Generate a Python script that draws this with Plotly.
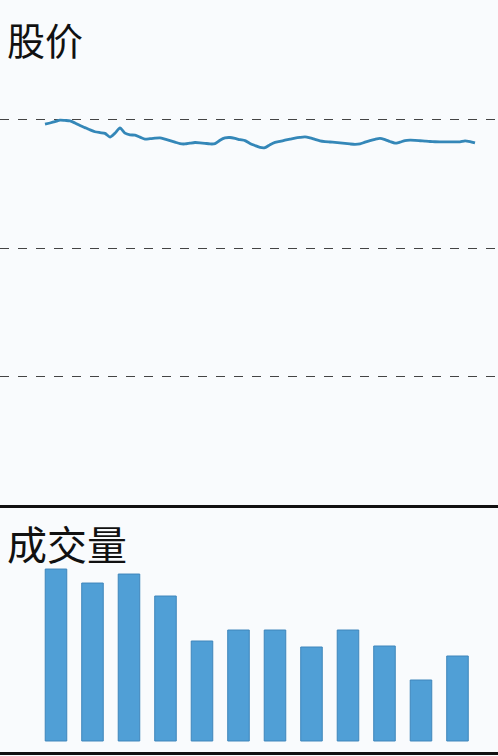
import plotly.graph_objects as go
from plotly.subplots import make_subplots

# daily close
price = [
    29.65, 29.74, 29.84, 29.96, 29.94, 29.91, 29.74, 29.55, 29.38, 29.21,
    29.06, 28.99, 28.93, 28.64, 28.95, 29.36, 28.95, 28.82, 28.79, 28.64,
    28.48, 28.52, 28.56, 28.58, 28.48, 28.37, 28.25, 28.13, 28.11, 28.17,
    28.22, 28.20, 28.16, 28.11, 28.13, 28.40, 28.58, 28.61, 28.54, 28.44,
    28.37, 28.15, 27.99, 27.84, 27.82, 28.05, 28.23, 28.31, 28.40, 28.48,
    28.56, 28.62, 28.66, 28.58, 28.46, 28.35, 28.29, 28.26, 28.23, 28.19,
    28.15, 28.11, 28.08, 28.11, 28.25, 28.37, 28.47, 28.54, 28.44, 28.30,
    28.17, 28.25, 28.37, 28.40, 28.39, 28.36, 28.33, 28.30, 28.28, 28.27,
    28.27, 28.27, 28.27, 28.27, 28.35, 28.29, 28.19,
]
days = list(range(len(price)))

periods = list(range(1, 13))
volume = [172, 158, 167, 145, 100, 111, 111, 94, 111, 95, 61, 85]

bg = "#f9fbfd"
cjk = "Noto Sans CJK SC"

fig = make_subplots(rows=2, cols=1)

fig.add_trace(go.Scatter(
    x=days, y=price, mode="lines",
    line=dict(color="#3487b8", width=2.8, shape="spline", smoothing=0.6),
    showlegend=False, hoverinfo="skip"
), row=1, col=1)

fig.add_trace(go.Bar(
    x=periods, y=volume, width=0.59,
    marker=dict(color="#509fd6", line=dict(color="#3f86bb", width=1)),
    showlegend=False, hoverinfo="skip"
), row=2, col=1)

fig.update_layout(
    width=498, height=756,
    margin=dict(l=0, r=0, t=0, b=0),
    paper_bgcolor=bg, plot_bgcolor=bg,
    font=dict(family=cjk, color="#111"),
    xaxis=dict(domain=[0, 1], range=[-9, 90.6], showgrid=False, zeroline=False,
               showticklabels=False, ticks="", showline=True,
               linecolor="#111", linewidth=2.5),
    yaxis=dict(domain=[0.332, 0.8757], range=[0, 32], dtick=10,
               showgrid=True, gridcolor="#444", griddash="dash", gridwidth=1.2,
               zeroline=False, showticklabels=False, ticks=""),
    xaxis2=dict(domain=[0, 1], range=[-0.534, 13.11], showgrid=False, zeroline=False,
                showticklabels=False, ticks="", showline=True,
                linecolor="#111", linewidth=3),
    yaxis2=dict(domain=[0.0053, 0.2526], range=[-11, 176], showgrid=False,
                zeroline=False, showticklabels=False, ticks=""),
    annotations=[
        dict(text="股价", xref="paper", yref="paper", x=0.01, y=0.9497,
             xanchor="left", yanchor="middle", showarrow=False,
             font=dict(size=38, family=cjk, color="#111")),
        dict(text="成交量", xref="paper", yref="paper", x=0.01, y=0.2817,
             xanchor="left", yanchor="middle", showarrow=False,
             font=dict(size=40, family=cjk, color="#111")),
    ],
)

# page body has a default 8px margin; drop it so the chart sits at 0,0
fig.write_html("out.html", config={"displayModeBar": False},
               post_script="document.body.style.margin='0';")
